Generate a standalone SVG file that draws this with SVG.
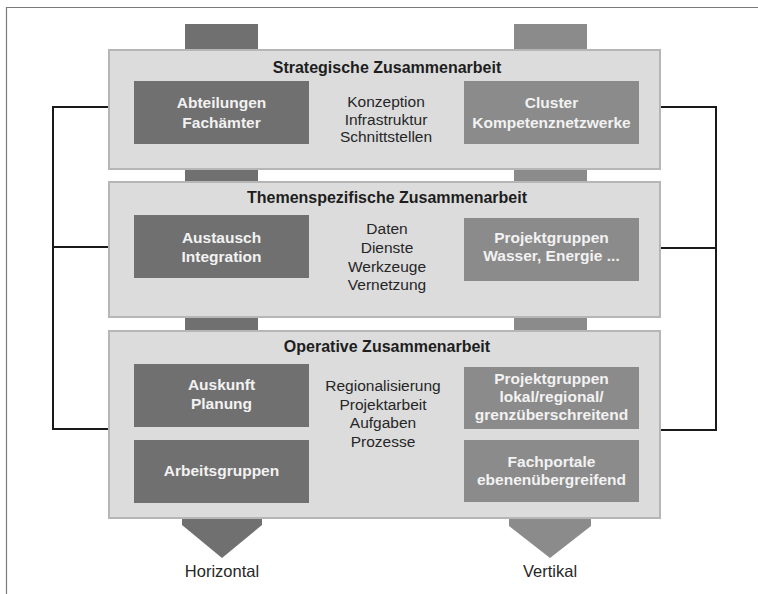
<svg xmlns="http://www.w3.org/2000/svg" width="758" height="594" viewBox="0 0 758 594">
<defs>
<style>
text{font-family:"Liberation Sans",Arial,sans-serif;text-anchor:middle;}
.title{font-size:16px;font-weight:bold;fill:#1e1e1e;}
.mid{font-size:15.5px;fill:#262626;}
.bt{font-size:15.5px;font-weight:bold;fill:#f2f2f2;}
.lab{font-size:16.5px;fill:#262626;}
.panel{fill:#dcdcdd;stroke:#b6b6b6;stroke-width:2;}
.dk{fill:#707070;}
.lt{fill:#8b8b8b;}
.con{fill:none;stroke:#1a1a1a;stroke-width:2;}
</style>
</defs>
<rect width="758" height="594" fill="#ffffff"/>
<path d="M6.5,594 V7.5 H758" fill="none" stroke="#7a7a7a" stroke-width="1.2"/>

<g id="columns">
<rect class="dk" x="185" y="24" width="73" height="26"/>
<rect class="lt" x="514" y="24" width="73" height="26"/>
<rect class="dk" x="185" y="168" width="73" height="15"/>
<rect class="lt" x="514" y="168" width="73" height="15"/>
<rect class="dk" x="185" y="316" width="73" height="16"/>
<rect class="lt" x="514" y="316" width="73" height="16"/>
</g>

<g id="connectors">
<path class="con" d="M108,107 H53 V429 H108 M53,247 H108"/>
<path class="con" d="M660,107 H716 V430 H660 M716,248 H660"/>
</g>

<g id="strategisch">
<rect class="panel" x="109" y="50" width="551" height="119"/>
<text class="title" x="387" y="73">Strategische Zusammenarbeit</text>
<text class="mid" x="386" y="107">Konzeption</text>
<text class="mid" x="386" y="124.5">Infrastruktur</text>
<text class="mid" x="386" y="142">Schnittstellen</text>
</g>
<g id="abteilungen">
<rect class="dk" x="134" y="81" width="175" height="63"/>
<text class="bt" x="221.5" y="108">Abteilungen</text>
<text class="bt" x="221.5" y="128">Fachämter</text>
</g>
<g id="cluster">
<rect class="lt" x="464" y="81" width="175" height="63"/>
<text class="bt" x="551.5" y="108">Cluster</text>
<text class="bt" x="551.5" y="128">Kompetenznetzwerke</text>
</g>

<g id="themenspezifisch">
<rect class="panel" x="109" y="182" width="551" height="135"/>
<text class="title" x="387" y="203">Themenspezifische Zusammenarbeit</text>
<text class="mid" x="387" y="234">Daten</text>
<text class="mid" x="387" y="253">Dienste</text>
<text class="mid" x="387" y="271.5">Werkzeuge</text>
<text class="mid" x="387" y="290">Vernetzung</text>
</g>
<g id="austausch">
<rect class="dk" x="134" y="215" width="175" height="63"/>
<text class="bt" x="221.5" y="243">Austausch</text>
<text class="bt" x="221.5" y="262">Integration</text>
</g>
<g id="projektgruppen-wasser">
<rect class="lt" x="464" y="218" width="175" height="63"/>
<text class="bt" x="551.5" y="243">Projektgruppen</text>
<text class="bt" x="551.5" y="261">Wasser, Energie ...</text>
</g>

<g id="operativ">
<rect class="panel" x="109" y="331" width="551" height="187"/>
<text class="title" x="387" y="352">Operative Zusammenarbeit</text>
<text class="mid" x="383" y="391">Regionalisierung</text>
<text class="mid" x="383" y="409.5">Projektarbeit</text>
<text class="mid" x="383" y="428">Aufgaben</text>
<text class="mid" x="383" y="446.5">Prozesse</text>
</g>
<g id="auskunft">
<rect class="dk" x="134" y="364" width="175" height="63"/>
<text class="bt" x="221.5" y="390">Auskunft</text>
<text class="bt" x="221.5" y="409">Planung</text>
</g>
<g id="arbeitsgruppen">
<rect class="dk" x="134" y="440" width="175" height="63"/>
<text class="bt" x="221.5" y="476">Arbeitsgruppen</text>
</g>
<g id="projektgruppen-lokal">
<rect class="lt" x="464" y="367" width="175" height="62"/>
<text class="bt" x="551.5" y="384">Projektgruppen</text>
<text class="bt" x="551.5" y="402">lokal/regional/</text>
<text class="bt" x="551.5" y="420">grenzüberschreitend</text>
</g>
<g id="fachportale">
<rect class="lt" x="464" y="440" width="175" height="62"/>
<text class="bt" x="551.5" y="467">Fachportale</text>
<text class="bt" x="551.5" y="485">ebenenübergreifend</text>
</g>

<g id="horizontal">
<polygon class="dk" points="182,519 262,519 262,525 222,558 182,525"/>
<text class="lab" x="222" y="577">Horizontal</text>
</g>
<g id="vertikal">
<polygon class="lt" points="509,519 591,519 591,526 550,558 509,526"/>
<text class="lab" x="550" y="577">Vertikal</text>
</g>
</svg>
